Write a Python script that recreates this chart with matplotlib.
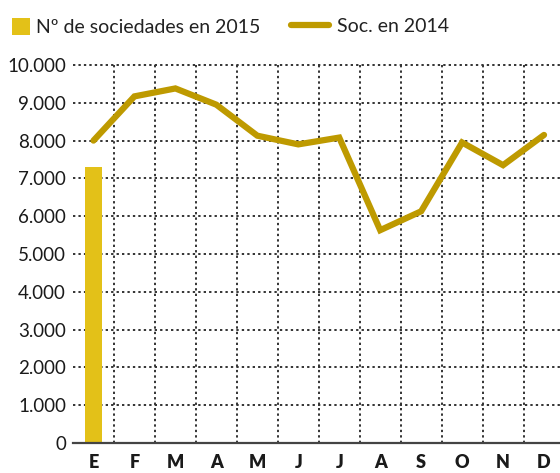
import matplotlib.pyplot as plt
from matplotlib.lines import Line2D
from matplotlib.patches import Patch
import numpy as np

meses = ['E', 'F', 'M', 'A', 'M', 'J', 'J', 'A', 'S', 'O', 'N', 'D']
soc_2014 = [8000, 9170, 9380, 8950, 8130, 7900, 8080, 5630, 6130, 7950, 7350, 8150]
soc_2015 = [7300]
y_ticks = [0, 1000, 2000, 3000, 4000, 5000, 6000, 7000, 8000, 9000, 10000]
y_labels = ['0', '1.000', '2.000', '3.000', '4.000', '5.000', '6.000',
            '7.000', '8.000', '9.000', '10.000']

plt.rcParams['font.family'] = ['Lato', 'DejaVu Sans']
bar_col = '#E3C118'
line_col = '#BE9A00'
grid_col = '#333333'

fig = plt.figure(figsize=(5.6, 4.73), dpi=100)
ax = fig.add_axes([73/560, 1 - 443/473, 1 - 73/560, (443 - 65)/473])

x = np.arange(len(meses))
ax.bar(x[:len(soc_2015)], soc_2015, width=0.42, color=bar_col, zorder=2)
ax.plot(x, soc_2014, color=line_col, lw=4.5, solid_capstyle='round',
        solid_joinstyle='miter', zorder=3, clip_on=False)

ax.set_xlim(-0.5, 11.39)
ax.set_ylim(0, 10000)
ax.set_yticks(y_ticks)
ax.set_yticklabels(y_labels)
ax.set_xticks(x)
ax.set_xticklabels(meses, fontweight='heavy')

for v in y_ticks[1:]:
    ax.axhline(v, color=grid_col, lw=1.4, ls=(0, (1.2, 1.6)), zorder=1, clip_on=False)
for v in np.arange(0.5, 11, 1):
    ax.axvline(v, color=grid_col, lw=1.4, ls=(0, (1.2, 1.6)), zorder=1)

for s in ['top', 'right', 'left']:
    ax.spines[s].set_visible(False)
ax.spines['bottom'].set_color('#444444')
ax.spines['bottom'].set_linewidth(1.6)
ax.tick_params(axis='both', which='both', length=0, colors='#1a1a1a')
ax.tick_params(axis='y', pad=5, labelsize=13.5)
ax.tick_params(axis='x', pad=8, labelsize=13)

fig.legend([Patch(facecolor=bar_col, edgecolor='none')],
           ['Nº de sociedades en 2015'],
           loc='upper left', bbox_to_anchor=(0.008, 0.979), borderaxespad=0,
           frameon=False, fontsize=14, handlelength=0.93, handleheight=1.0,
           handletextpad=0.3, labelcolor='#222222')
fig.legend([Line2D([0], [0], color=line_col, lw=4.5, solid_capstyle='round')],
           ['Soc. en 2014'],
           loc='upper left', bbox_to_anchor=(0.505, 0.979), borderaxespad=0,
           frameon=False, fontsize=14, handlelength=2.0, handletextpad=0.4,
           labelcolor='#222222')

fig.savefig('out.png', dpi=100)
